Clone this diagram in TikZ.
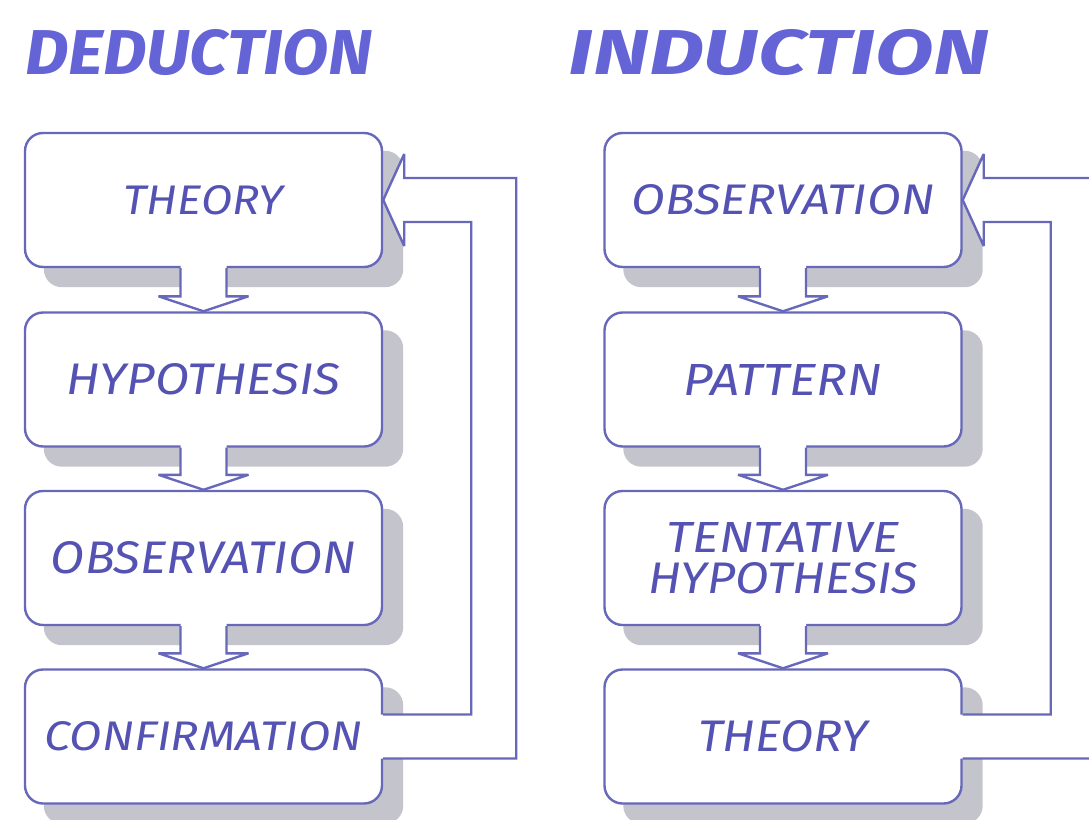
\documentclass[tikz,border=0pt]{standalone}
\usepackage{fontspec}
\setmainfont{Fira Sans}
\usepackage{graphicx}
\usetikzlibrary{calc,backgrounds}

\definecolor{edge}{RGB}{104,104,186}
\definecolor{ink}{RGB}{84,82,178}
\definecolor{headline}{RGB}{100,100,214}
\definecolor{shadowgray}{RGB}{196,196,204}

% scale a piece of text to an exact width and cap height
\newcommand\fitlabel[3]{\resizebox{#1pt}{#2pt}{\itshape #3}}

% hollow block arrow from the bottom of one stage to the top of the next
\newcommand\stepdown[2]{%
  \fill[white] ($(#1.south)+(-23,-3)$) -- ($(#2.north)+(-23,-15)$) -- ($(#2.north)+(-45,-15)$)
    -- (#2.north) -- ($(#2.north)+(45,-15)$) -- ($(#2.north)+(23,-15)$) -- ($(#1.south)+(23,-3)$) -- cycle;
  \draw[flow] ($(#1.south)+(-23,0)$) -- ($(#2.north)+(-23,-15)$) -- ($(#2.north)+(-45,-15)$)
    -- (#2.north) -- ($(#2.north)+(45,-15)$) -- ($(#2.north)+(23,-15)$) -- ($(#1.south)+(23,0)$);
}

% hollow block arrow that leaves the last stage and returns to the first
\newcommand\loopback[2]{%
  \fill[white] ($(#1.east)+(-3,22)$) -- ($(#1.east)+(133,22)$) -- ($(#2.east)+(133,-22)$)
    -- ($(#2.east)+(21,-22)$) -- ($(#2.east)+(21,-46)$) -- (#2.east) -- ($(#2.east)+(21,46)$)
    -- ($(#2.east)+(21,22)$) -- ($(#2.east)+(88,22)$) -- ($(#1.east)+(88,-22)$) -- ($(#1.east)+(-3,-22)$) -- cycle;
  \draw[flow] ($(#1.east)+(0,22)$) -- ($(#1.east)+(133,22)$) -- ($(#2.east)+(133,-22)$)
    -- ($(#2.east)+(21,-22)$) -- ($(#2.east)+(21,-46)$) -- (#2.east) -- ($(#2.east)+(21,46)$)
    -- ($(#2.east)+(21,22)$) -- ($(#2.east)+(88,22)$) -- ($(#1.east)+(88,-22)$) -- ($(#1.east)+(0,-22)$);
}

\begin{document}
\begin{tikzpicture}[x=1pt,y=-1pt,
  stage/.style={draw=edge, line width=2.4pt, fill=white, rounded corners=18pt,
    minimum width=357pt, minimum height=134pt, inner sep=0pt, text=ink},
  heading/.style={inner sep=0pt, text=headline},
  flow/.style={draw=edge, line width=2.4pt, line join=miter, miter limit=3},
]
\useasboundingbox (0,0) rectangle (1089,819);

% titles
\node[heading] (tded) at (199,53) {\fitlabel{347}{45}{\bfseries DEDUCTION}};
\node[heading] (tind) at (779,53) {\fitlabel{420}{45}{\bfseries INDUCTION}};

% deduction stages
\node[stage] (d1) at (203.5,200)   {\fitlabel{160}{29}{THEORY}};
\node[stage] (d2) at (203.5,379.5) {\fitlabel{274}{31}{HYPOTHESIS}};
\node[stage] (d3) at (203.5,558)   {\fitlabel{305}{32}{OBSERVATION}};
\node[stage] (d4) at (203.5,736.5) {\fitlabel{318}{29}{CONFIRMATION}};

% induction stages
\node[stage] (i1) at (783,200)   {\fitlabel{303}{30}{OBSERVATION}};
\node[stage] (i2) at (783,379.5) {\fitlabel{198}{31}{PATTERN}};
\node[stage, align=center, font=\fontsize{30}{41}\selectfont] (i3) at (783,558)
  {\fitlabel{233}{30}{TENTATIVE}\\\fitlabel{270}{31}{HYPOTHESIS}};
\node[stage] (i4) at (783,736.5) {\fitlabel{170}{31}{THEORY}};

% page and drop shadows
\begin{scope}[on background layer]
  \fill[white] (0,0) rectangle (1089,819);
  \foreach \n in {d1,d2,d3,d4,i1,i2,i3,i4}
    \fill[shadowgray, rounded corners=18pt] ($(\n.north west)+(20,19)$) rectangle ($(\n.south east)+(20,19)$);
\end{scope}

% connectors
\stepdown{d1}{d2}
\stepdown{d2}{d3}
\stepdown{d3}{d4}
\stepdown{i1}{i2}
\stepdown{i2}{i3}
\stepdown{i3}{i4}
\begin{scope}
  \clip (0,0) rectangle (1089,819);
  \loopback{d4}{d1}
  \loopback{i4}{i1}
\end{scope}
\end{tikzpicture}
\end{document}
